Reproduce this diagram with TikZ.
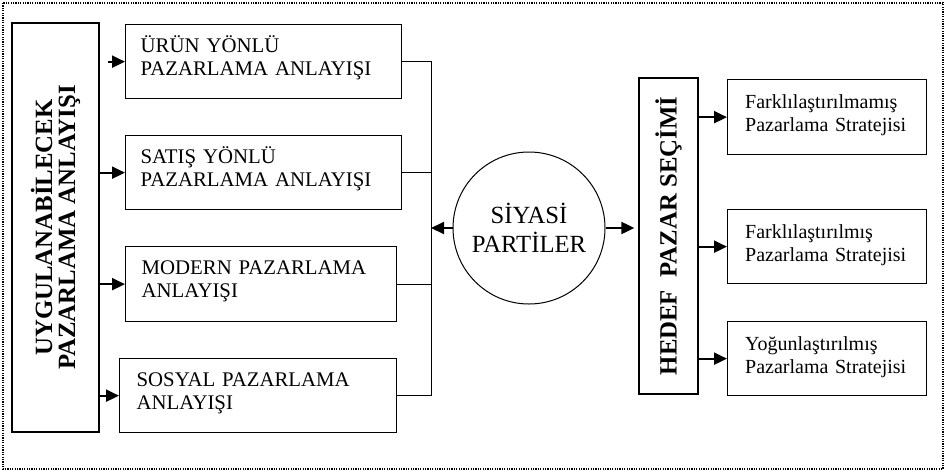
\documentclass[tikz,border=0pt]{standalone}
\usepackage{fontspec}
\setmainfont{Liberation Serif}
\usetikzlibrary{arrows.meta,calc}
\hyphenpenalty=10000
\exhyphenpenalty=10000

\tikzset{
  kutu/.style={draw, line width=1.3pt, anchor=north west, align=left,
    inner ysep=0pt, font=\fontsize{20.8}{23}\selectfont},
  dikey/.style={draw, line width=1.3pt, rotate=90, inner sep=0pt,
    align=center, font=\fontsize{24.8}{23}\selectfont\bfseries},
  ok/.style={->, line width=2pt},
  hat/.style={line width=1pt},
}

\begin{document}
\begin{tikzpicture}[x=1pt,y=-1pt,>={Triangle[length=13pt,width=12pt]}]
  \useasboundingbox (0,0) rectangle (949,472);
  % Dotted frame
  \draw[line width=1.5pt, dash pattern=on 1.2pt off 1.2pt] (3,3) rectangle (943,469);
  % Marketing approaches
  \node[dikey, minimum width=409pt, minimum height=87pt] (uygula) at (55.5,227.5)
    {UYGULANABİLECEK\\PAZARLAMA ANLAYIŞI};
  \node[kutu, text width=246pt, inner xsep=15pt, text height=28pt, text depth=46pt]
    (urun) at (125,24) {ÜRÜN YÖNLÜ\\PAZARLAMA ANLAYIŞI};
  \node[kutu, text width=246pt, inner xsep=15pt, text height=28pt, text depth=46pt]
    (satis) at (125,135) {SATIŞ YÖNLÜ\\PAZARLAMA ANLAYIŞI};
  \node[kutu, text width=239pt, inner xsep=16pt, text height=28pt, text depth=47pt]
    (modern) at (125,246) {MODERN PAZARLAMA\\ANLAYIŞI};
  \node[kutu, text width=243pt, inner xsep=17pt, text height=28pt, text depth=46pt]
    (sosyal) at (119,358) {SOSYAL PAZARLAMA\\ANLAYIŞI};
  % Centre
  \node[circle, draw, line width=1pt, minimum size=152pt, inner sep=0pt, align=center,
    font=\fontsize{24.7}{28.5}\selectfont] (siyasi) at (529,228) {SİYASİ\\PARTİLER};
  % Target market
  \node[dikey, minimum width=316pt, minimum height=59pt] (hedef) at (668.5,236)
    {HEDEF\ \ PAZAR SEÇİMİ};
  \node[kutu, text width=164pt, inner xsep=17.5pt, text height=29pt, text depth=46pt,
    font=\fontsize{20}{22.5}\selectfont]
    (fark1) at (727,79) {Farklılaştırılmamış\\Pazarlama Stratejisi};
  \node[kutu, text width=164pt, inner xsep=17.5pt, text height=29pt, text depth=45pt,
    font=\fontsize{20}{22.5}\selectfont]
    (fark2) at (727,209) {Farklılaştırılmış\\Pazarlama Stratejisi};
  \node[kutu, text width=164pt, inner xsep=17.5pt, text height=29pt, text depth=45pt,
    font=\fontsize{20}{22.5}\selectfont]
    (yogun) at (727,321) {Yoğunlaştırılmış\\Pazarlama Stratejisi};
  % Arrows
  \coordinate (bus) at (431,0);
  \draw[ok] ($(uygula.south |- urun.west)+(8,0)$) -- (urun.west);
  \draw[ok] (uygula.south |- satis.west) -- (satis.west);
  \draw[ok] (uygula.south |- modern.west) -- (modern.west);
  \draw[ok] (uygula.south |- sosyal.west) -- (sosyal.west);
  \draw[hat] (urun.east) -- (urun.east -| bus) -- (sosyal.east -| bus) -- (sosyal.east);
  \draw[hat] (satis.east) -- (satis.east -| bus);
  \draw[hat] (modern.east) -- (modern.east -| bus);
  \draw[ok] (siyasi.west) -- (siyasi.west -| bus);
  \draw[ok, shorten >=4pt] (siyasi.east) -- (siyasi.east -| hedef.north);
  \draw[ok] (hedef.south |- fark1.west) -- (fark1.west);
  \draw[ok] (hedef.south |- fark2.west) -- (fark2.west);
  \draw[ok] (hedef.south |- yogun.west) -- (yogun.west);
\end{tikzpicture}
\end{document}
